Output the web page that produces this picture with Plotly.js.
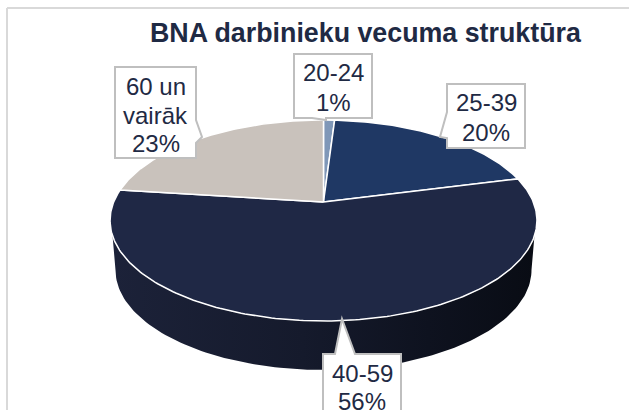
<!DOCTYPE html>
<html><head><meta charset="utf-8">
<script src="https://cdn.plot.ly/plotly-3.0.1.min.js"></script>
<style>html,body{margin:0;padding:0;background:#fff}#c{width:629px;height:410px}</style>
</head><body><div id="c"></div>
<script>
const categories = ['20-24', '25-39', '40-59', '60 un vairāk'];
const shares = [1, 20, 56, 23];
const labelLines = [['20-24', '1%'], ['25-39', '20%'], ['40-59', '56%'], ['60 un', 'vairāk', '23%']];
const sliceColors = ['#7f97b8', '#1f3864', '#1f2845', '#c9c2bc'];
const titleText = 'BNA darbinieku vecuma struktūra';
const inkColor = '#1f2a44';

// box [x0,y0,x1,y1], pointer [baseA, tip, baseB], text line y positions
const callouts = [
  {box:[294,54,372,118], ptr:[[312,118],[326,120],[326,118]], ys:[72,102]},
  {box:[447,84,525,148], ptr:[[447,112],[440,137],[447,138]], ys:[102,132]},
  {box:[323,354,401,430], ptr:[[335,354],[342,319],[355,354]], ys:[373,401]},
  {box:[115,67,196,158], ptr:[[196,120],[202,137],[196,143]], ys:[86,115,143]}
];

// perspective disc
const P = {cx:323.5, y0:202, rx:209.8, ry:97.1, k:0.184};
function disc(a){
  const u=Math.sin(a), v=Math.cos(a), w=1/(1+P.k*v);
  return [P.cx+P.rx*u*w, P.y0-P.ry*v*w];
}
const total = shares.reduce((a,b)=>a+b,0);
const traces = [];

// side wall: lower arc of top rim plus lower arc of the bottom rim
const sx=[], sy=[];
const a0=Math.PI*0.606, a1=Math.PI*1.394;
for(let i=0;i<=120;i++){const p=disc(a0+(a1-a0)*i/120); sx.push(p[0]); sy.push(p[1]);}
const B={cx:323.5, cy:270, rx:208, ry:100};
for(let i=0;i<=120;i++){const t=Math.PI*i/120; sx.push(B.cx-B.rx*Math.cos(t)); sy.push(B.cy+B.ry*Math.sin(t));}
traces.push({type:'scatter',mode:'lines',x:sx,y:sy,fill:'toself',line:{width:0,color:'rgba(0,0,0,0)'},
  fillgradient:{type:'horizontal',colorscale:[[0,'#1c2239'],[0.45,'#151a2c'],[0.75,'#0e121f'],[1,'#090c14']]},
  hoverinfo:'skip',showlegend:false});

// top slices
let cum=0;
shares.forEach((s,i)=>{
  const x=[P.cx], y=[P.y0];
  const st=cum/total*2*Math.PI, en=(cum+s)/total*2*Math.PI, n=Math.max(8,Math.round(s*4));
  for(let j=0;j<=n;j++){const p=disc(st+(en-st)*j/n); x.push(p[0]); y.push(p[1]);}
  x.push(P.cx); y.push(P.y0);
  cum+=s;
  traces.push({type:'scatter',mode:'lines',name:categories[i],x,y,fill:'toself',fillcolor:sliceColors[i],
    line:{color:'#ffffff',width:1.5},hoverinfo:'name',showlegend:false});
});

const shapes=[
  {type:'line',xref:'x',yref:'y',x0:7,y0:8,x1:629,y1:8,line:{color:'#d9d9d9',width:2},layer:'below'},
  {type:'line',xref:'x',yref:'y',x0:7,y0:8,x1:7,y1:410,line:{color:'#d9d9d9',width:2},layer:'below'}
];
const annotations=[{xref:'x',yref:'y',x:365.5,y:33,text:'<b>'+titleText+'</b>',showarrow:false,
  font:{family:'Liberation Sans',size:26.8,color:inkColor}}];
callouts.forEach((c,i)=>{
  const [x0,y0,x1,y1]=c.box, [A,T,Z]=c.ptr;
  let path;
  if(A[1]===y0 && Z[1]===y0) // pointer on top edge
    path=`M${x0},${y0}L${A[0]},${A[1]}L${T[0]},${T[1]}L${Z[0]},${Z[1]}L${x1},${y0}L${x1},${y1}L${x0},${y1}Z`;
  else if(A[1]===y1) // bottom edge
    path=`M${x0},${y0}L${x1},${y0}L${x1},${y1}L${Z[0]},${Z[1]}L${T[0]},${T[1]}L${A[0]},${A[1]}L${x0},${y1}Z`;
  else if(A[0]===x0) // left edge
    path=`M${x0},${y0}L${x1},${y0}L${x1},${y1}L${x0},${y1}L${Z[0]},${Z[1]}L${T[0]},${T[1]}L${A[0]},${A[1]}Z`;
  else // right edge
    path=`M${x0},${y0}L${x1},${y0}L${A[0]},${A[1]}L${T[0]},${T[1]}L${Z[0]},${Z[1]}L${x1},${y1}L${x0},${y1}Z`;
  shapes.push({type:'path',xref:'x',yref:'y',path,fillcolor:'#ffffff',line:{color:'#bfbfbf',width:2},layer:'above'});
  labelLines[i].forEach((t,j)=>annotations.push({xref:'x',yref:'y',x:(x0+x1)/2,y:c.ys[j],text:t,showarrow:false,
    font:{family:'Liberation Sans',size:24,color:inkColor}}));
});

Plotly.newPlot('c',traces,{
  width:629,height:410,margin:{l:0,r:0,t:0,b:0},paper_bgcolor:'#fff',plot_bgcolor:'#fff',showlegend:false,
  xaxis:{range:[0,629],visible:false,fixedrange:true},
  yaxis:{range:[410,0],visible:false,fixedrange:true},
  shapes,annotations
},{staticPlot:true,displayModeBar:false});
</script></body></html>
